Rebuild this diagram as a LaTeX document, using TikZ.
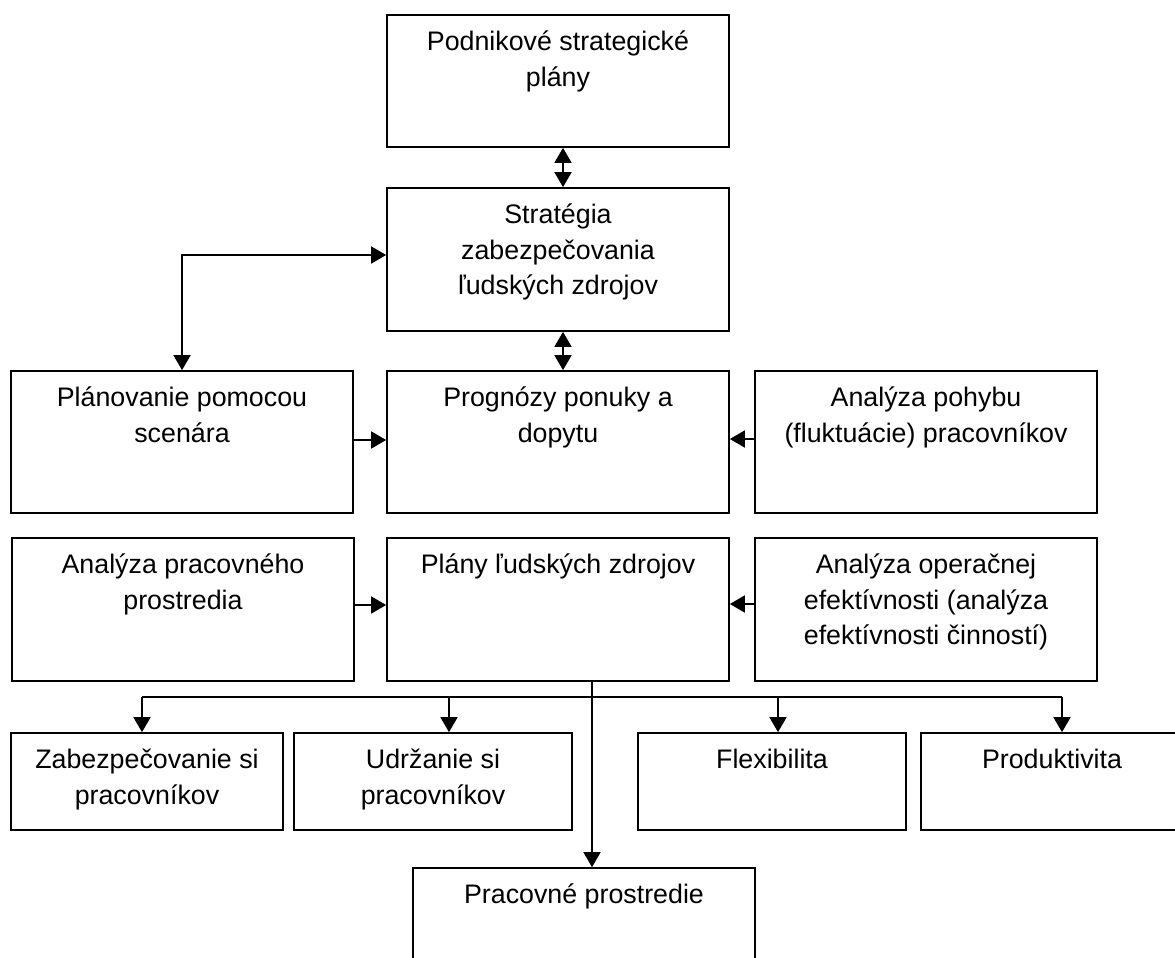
\documentclass[tikz,border=0pt]{standalone}
\usepackage{fontspec}
\setmainfont{Liberation Sans}
\usetikzlibrary{arrows.meta}
\begin{document}
\begin{tikzpicture}[x=1pt,y=-1pt,
  box/.style={draw, line width=1.7pt, rectangle, inner sep=0pt},
  txt/.style={anchor=north, inner sep=0pt, align=center, font=\fontsize{26.8}{35.5}\selectfont},
  line/.style={line width=1.7pt},
  conn/.style={line width=1.7pt, -{Triangle[length=15pt,width=17pt]}},
  both/.style={line width=1.7pt, {Triangle[length=15pt,width=17pt]}-{Triangle[length=15pt,width=17pt]}}]
\useasboundingbox (0,0) rectangle (1175,958);
\begin{scope}
\clip (0,0) rectangle (1175,958);
% boxes
\node[box, minimum width=342pt, minimum height=132pt] (b1) at (558,81) {};
\node[box, minimum width=342pt, minimum height=143pt] (b2) at (558,259.5) {};
\node[box, minimum width=342pt, minimum height=142pt] (b3) at (182,442) {};
\node[box, minimum width=342pt, minimum height=142pt] (b4) at (558,442) {};
\node[box, minimum width=342pt, minimum height=142pt] (b5) at (926,442) {};
\node[box, minimum width=342pt, minimum height=143pt] (b6) at (183,609.5) {};
\node[box, minimum width=342pt, minimum height=143pt] (b7) at (558,609.5) {};
\node[box, minimum width=342pt, minimum height=143pt] (b8) at (926,609.5) {};
\node[box, minimum width=272pt, minimum height=97pt] (b9) at (147,781.5) {};
\node[box, minimum width=278pt, minimum height=97pt] (b10) at (433,781.5) {};
\node[box, minimum width=268pt, minimum height=97pt] (b11) at (772,781.5) {};
\node[box, minimum width=262pt, minimum height=97pt] (b12) at (1052,781.5) {};
\node[box, minimum width=342pt, minimum height=143pt] (b13) at (584,939.5) {};
% texts
\node[txt] (t1) at ([yshift=-11.5pt]b1.north) {\strut Podnikové strategické\\plány};
\node[txt] (t2) at ([yshift=-11.5pt]b2.north) {\strut Stratégia\\zabezpečovania\\ľudských zdrojov};
\node[txt] (t3) at ([yshift=-11.5pt]b3.north) {\strut Plánovanie pomocou\\scenára};
\node[txt] (t4) at ([yshift=-11.5pt]b4.north) {\strut Prognózy ponuky a\\dopytu};
\node[txt] (t5) at ([yshift=-11.5pt]b5.north) {\strut Analýza pohybu\\(fluktuácie) pracovníkov};
\node[txt] (t6) at ([yshift=-11.5pt]b6.north) {\strut Analýza pracovného\\prostredia};
\node[txt] (t7) at ([yshift=-11.5pt]b7.north) {\strut Plány ľudských zdrojov};
\node[txt] (t8) at ([yshift=-11.5pt]b8.north) {\strut Analýza operačnej\\efektívnosti (analýza\\efektívnosti činností)};
\node[txt] (t9) at ([yshift=-11.5pt]b9.north) {\strut Zabezpečovanie si\\pracovníkov};
\node[txt] (t10) at ([yshift=-11.5pt]b10.north) {\strut Udržanie si\\pracovníkov};
\node[txt] (t11) at ([yshift=-11.5pt]b11.north) {\strut Flexibilita};
\node[txt] (t12) at ([yshift=-11.5pt]b12.north) {\strut Produktivita};
\node[txt] (t13) at ([yshift=-11.5pt]b13.north) {\strut Pracovné prostredie};
% connectors
\draw[both] ([xshift=5pt]b1.south) -- ([xshift=5pt]b2.north);
\draw[both] ([xshift=5pt]b2.south) -- ([xshift=5pt]b4.north);
\draw[both] ([yshift=4.5pt]b2.west) -| (b3.north);
\draw[conn] ([yshift=2pt]b3.east) -- ([yshift=2pt]b3.east -| b4.west);
\draw[conn] ([yshift=3pt]b5.west) -- ([yshift=3pt]b5.west -| b4.east);
\draw[conn] ([yshift=4.5pt]b6.east) -- ([yshift=4.5pt]b6.east -| b7.west);
\draw[conn] ([yshift=5.5pt]b8.west) -- ([yshift=5.5pt]b8.west -| b7.east);
\coordinate (hub) at ([xshift=34pt]b7.south);
\draw[conn] (hub) -- (hub |- b13.north);
\coordinate (a9) at (142,697);
\coordinate (a10) at (449,697);
\coordinate (a11) at (778,697);
\coordinate (a12) at (1062,697);
\draw[line] (a9) -- (a12);
\draw[conn] (a9) -- (a9 |- b9.north);
\draw[conn] (a10) -- (a10 |- b10.north);
\draw[conn] (a11) -- (a11 |- b11.north);
\draw[conn] (a12) -- (a12 |- b12.north);
\end{scope}
\end{tikzpicture}
\end{document}
